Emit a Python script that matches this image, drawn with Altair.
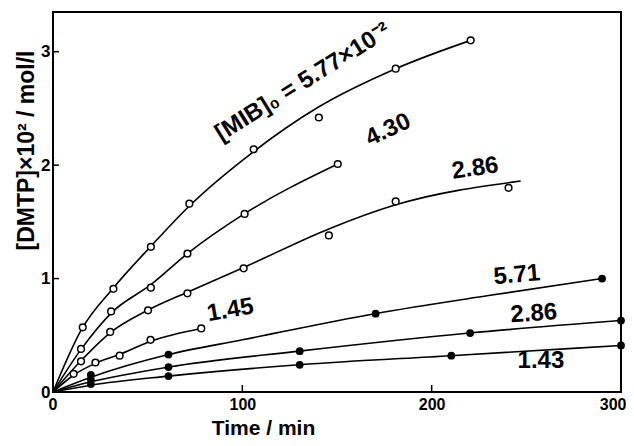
import altair as alt
import pandas as pd

FONT = "Liberation Sans"

# ---- measured data points (open circles) ----
s577_x = [15.7, 31.9, 51.7, 72, 106, 140.4, 181, 220.6]
s577_y = [0.57, 0.91, 1.28, 1.66, 2.14, 2.42, 2.85, 3.10]
s430_x = [14.8, 30.7, 51.7, 71, 101.2, 150.4]
s430_y = [0.38, 0.71, 0.92, 1.22, 1.57, 2.01]
s286o_x = [14.8, 30.2, 50.2, 71, 100.7, 145.7, 181, 240.6]
s286o_y = [0.27, 0.53, 0.72, 0.87, 1.09, 1.38, 1.68, 1.80]
s145_x = [10.9, 22.4, 35.2, 51.5, 78.3]
s145_y = [0.16, 0.26, 0.32, 0.46, 0.56]
# ---- filled circles ----
s571_x = [20, 61, 170.4, 290]
s571_y = [0.15, 0.33, 0.69, 1.00]
s286f_x = [20, 61, 130.3, 220.3, 300]
s286f_y = [0.11, 0.22, 0.36, 0.52, 0.63]
s143_x = [20, 61, 130.3, 210.4, 300]
s143_y = [0.07, 0.14, 0.24, 0.32, 0.41]

# ---- fitted curves ----
c577_x = [0, 15, 32, 52, 72, 106, 140, 181, 220.6]
c577_y = [0, 0.55, 0.92, 1.29, 1.64, 2.12, 2.51, 2.85, 3.10]
c430_x = [0, 15, 31, 52, 71, 101, 150.4]
c430_y = [0, 0.38, 0.70, 0.95, 1.22, 1.57, 2.01]
c286o_x = [0, 15, 30, 50, 71, 101, 146, 181, 247]
c286o_y = [0, 0.28, 0.52, 0.72, 0.88, 1.10, 1.44, 1.65, 1.86]
c145_x = [0, 11, 22, 35, 52, 78.3]
c145_y = [0, 0.15, 0.25, 0.33, 0.45, 0.56]
c571_x = [0, 20, 61, 100, 170, 230, 290]
c571_y = [0, 0.13, 0.33, 0.46, 0.69, 0.85, 1.00]
c286f_x = [0, 20, 61, 130, 220, 300]
c286f_y = [0, 0.09, 0.22, 0.36, 0.52, 0.63]
c143_x = [0, 20, 61, 130, 210, 300]
c143_y = [0, 0.06, 0.14, 0.24, 0.32, 0.41]

# ---- curve labels ----
lab_text = ["[MIB]₀ = 5.77×10⁻²", "4.30", "2.86", "1.45", "5.71", "2.86", "1.43"]
lab_x = [132, 177, 223, 93.7, 245, 254, 257.7]
lab_y = [2.73, 2.31, 1.97, 0.72, 1.03, 0.69, 0.27]
lab_angle = [328, 335, 352, 350, 355, 356, 0]

x_ticks = [0, 100, 200, 300]
y_ticks = [0, 1, 2, 3]


def frame(xs, ys, name):
    return pd.DataFrame({"x": xs, "y": ys, "s": name})


open_pts = pd.concat([frame(s577_x, s577_y, "a"), frame(s430_x, s430_y, "b"),
                      frame(s286o_x, s286o_y, "c"), frame(s145_x, s145_y, "d")])
fill_pts = pd.concat([frame(s571_x, s571_y, "e"), frame(s286f_x, s286f_y, "f"),
                      frame(s143_x, s143_y, "g")])
curves = pd.concat([frame(c577_x, c577_y, "a"), frame(c430_x, c430_y, "b"),
                    frame(c286o_x, c286o_y, "c"), frame(c145_x, c145_y, "d"),
                    frame(c571_x, c571_y, "e"), frame(c286f_x, c286f_y, "f"),
                    frame(c143_x, c143_y, "g")])
labels = pd.DataFrame({"t": lab_text, "x": lab_x, "y": lab_y, "a": lab_angle})

xs = alt.Scale(domain=[0, 300], nice=False, zero=False)
ys = alt.Scale(domain=[0, 3.35], nice=False, zero=False)

X = alt.X("x:Q", scale=xs, axis=alt.Axis(
    values=x_ticks, title="Time  / min", format="d", ticks=False, domain=False,
    grid=False, labelPadding=4, labelFontSize=16, labelFont=FONT, labelFontWeight="bold",
    labelColor="black", titleFont=FONT, titleFontSize=21, titleFontWeight="bold",
    titleColor="black", titleX=210, titleY=42, titleBaseline="alphabetic",
    titleAlign="center", labelFlush=True, labelFlushOffset=5))
Y = alt.Y("y:Q", scale=ys, axis=alt.Axis(
    values=y_ticks, title="[DMTP]×10²   /   mol/l", format="d", ticks=False, domain=False,
    grid=False, labelPadding=3, labelFontSize=17, labelFont=FONT, labelFontWeight="bold",
    labelColor="black", titleFont=FONT, titleFontSize=23, titleFontWeight="bold",
    titleColor="black", titleX=-27, titleY=138, titleAngle=270, titleAlign="center",
    titleBaseline="middle", labelFlush=False))

base = alt.Chart(curves)

lines = base.mark_line(color="black", strokeWidth=1.6, interpolate="monotone").encode(
    x=X, y=Y, detail="s:N", order="x:Q")

opens = alt.Chart(open_pts).mark_point(shape="circle", filled=True, fill="white",
                                        stroke="black", strokeWidth=1.5, size=45, opacity=1).encode(
    x="x:Q", y="y:Q")
fills = alt.Chart(fill_pts).mark_circle(color="black", size=60, opacity=1).encode(
    x="x:Q", y="y:Q")

texts = alt.Chart(labels).mark_text(font=FONT, fontSize=24, fontWeight="bold",
                                    color="black", align="center", baseline="middle").encode(
    x="x:Q", y="y:Q", text="t:N", angle=alt.Angle("a:Q", scale=None))

xt = alt.Chart(pd.DataFrame({"t": x_ticks[1:3]})).mark_rule(color="black", strokeWidth=1.5).encode(
    x="t:Q", y=alt.value(380), y2=alt.value(373))
yt = alt.Chart(pd.DataFrame({"t": y_ticks[1:]})).mark_rule(color="black", strokeWidth=1.5).encode(
    y="t:Q", x=alt.value(0), x2=alt.value(6))

chart = alt.layer(lines, opens, fills, texts, xt, yt).properties(
    width=568, height=380,
    autosize=alt.AutoSizeParams(type="none"),
    padding={"left": 45, "top": 4, "right": 5, "bottom": 46},
    background="white",
).configure_view(stroke="black", strokeWidth=2)

chart.save("out.html", embed_options={"renderer": "svg", "actions": False})
